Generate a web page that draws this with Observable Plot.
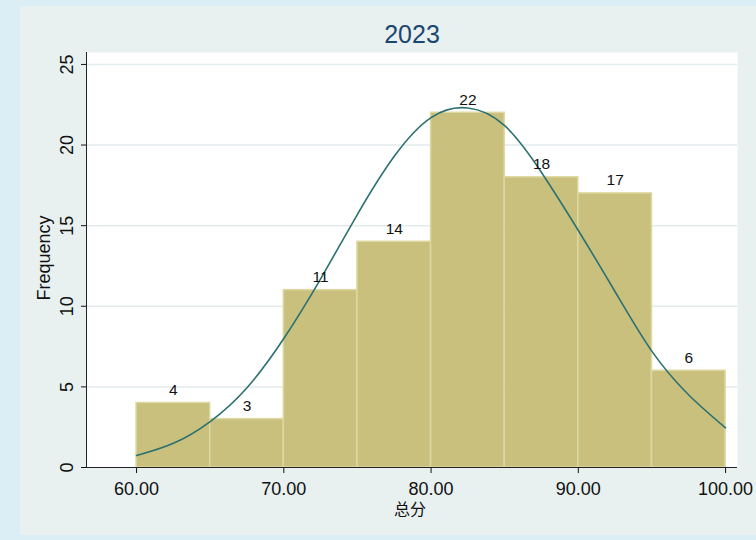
<!DOCTYPE html>
<html><head><meta charset="utf-8">
<script src="https://cdn.jsdelivr.net/npm/d3@7"></script>
<script src="https://cdn.jsdelivr.net/npm/@observablehq/plot@0.6"></script>
<style>
html,body{margin:0;padding:0;background:#dceef5;width:756px;height:540px;overflow:hidden;}
#panel{position:absolute;left:20px;top:6px;width:736px;height:529px;background:#e8f0f0;}
#chart{position:absolute;left:0;top:0;}
</style></head><body>
<div id="panel"></div><div id="chart"></div>
<script>
const binEdges = [60, 65, 70, 75, 80, 85, 90, 95, 100];
const counts = [4, 3, 11, 14, 22, 18, 17, 6];
const curveX = [60, 62.5, 65, 67.5, 70, 72.5, 75, 77.5, 80, 82.5, 85, 87.5, 90, 92.5, 95, 97.5, 100];
const curveY = [0.74, 1.5, 2.85, 4.95, 8.0, 11.7, 15.7, 19.3, 21.7, 22.3, 21.2, 18.3, 14.7, 10.9, 7.2, 4.5, 2.46];
const yTicks = [0, 5, 10, 15, 20, 25];
const xTicks = [60, 70, 80, 90, 100];
const xTickLabels = ["60.00", "70.00", "80.00", "90.00", "100.00"];
const titleText = "2023";
const xLabel = "总分";
const yLabel = "Frequency";

const bars = counts.map((c, i) => ({x1: binEdges[i], x2: binEdges[i + 1], count: c}));
const curve = curveX.map((x, i) => ({x, y: curveY[i]}));
const font = "'Liberation Sans', Arial, Helvetica, sans-serif";

const chart = Plot.plot({
  width: 756, height: 540,
  marginLeft: 86, marginRight: 19, marginTop: 52, marginBottom: 73,
  style: {background: "transparent", fontFamily: font, color: "#111", overflow: "visible"},
  x: {domain: [56.6, 100.81]},
  y: {domain: [0, 25.74]},
  marks: [
    Plot.frame({fill: "white", stroke: null}),
    Plot.gridY(yTicks.slice(1), {stroke: "#e3ebed", strokeOpacity: 1, strokeWidth: 1.5}),
    Plot.rectY(bars, {x1: "x1", x2: "x2", y: "count", fill: "#c9c07e", stroke: "#dcd8a0", strokeWidth: 1.5}),
    Plot.line(curve, {x: "x", y: "y", curve: "natural", stroke: "#2c7170", strokeWidth: 1.6}),
    Plot.text(bars, {x: d => (d.x1 + d.x2) / 2, y: "count", text: d => String(d.count), lineAnchor: "bottom", dy: -8, fontSize: 15.5, fill: "#111"}),
    Plot.axisX(xTicks, {tickFormat: d => xTickLabels[xTicks.indexOf(d)], tickSize: 6, tickPadding: 9, fontSize: 18, label: null}),
    Plot.axisY(yTicks, {tickRotate: -90, tickSize: 5, tickPadding: 9, fontSize: 18, label: null}),
    Plot.ruleY([0], {stroke: "#222"}),
    Plot.frame({anchor: "left", stroke: "#222"}),
    Plot.text([yLabel], {text: d => d, frameAnchor: "left", rotate: -90, dx: -42, dy: -2, textAnchor: "middle", lineAnchor: "middle", fontSize: 18, fill: "#111"}),
    Plot.text([xLabel], {text: d => d, frameAnchor: "bottom", dx: -2, dy: 42, lineAnchor: "middle", fontSize: 16, fill: "#111", fontFamily: "'Noto Sans CJK SC', sans-serif"}),
    Plot.text([titleText], {text: d => d, frameAnchor: "top", dy: -18, lineAnchor: "middle", fontSize: 25, fill: "#1a476f"})
  ]
});
document.getElementById("chart").appendChild(chart);
</script>
</body></html>
